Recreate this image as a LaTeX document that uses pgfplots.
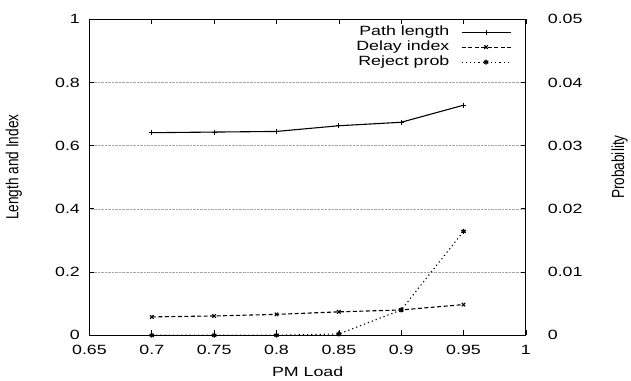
\documentclass[border=0pt]{standalone}
\usepackage{fontspec}
\setmainfont{Liberation Sans}[FakeStretch=1.33]
\newfontfamily\rotfont{Liberation Sans}[FakeStretch=0.78]
\usepackage{pgfplots}
\pgfplotsset{compat=1.18}
\newcommand\hfnt{\fontsize{13.4bp}{15bp}\selectfont}
\newcommand\rfnt{\rotfont\fontsize{17.5bp}{20bp}\selectfont}

\begin{document}
\begin{tikzpicture}
\pgfplotsset{
  common/.style={
    scale only axis, width=437bp, height=316.4bp,
    xmin=0.65, xmax=1,
    scaled x ticks=false, scaled y ticks=false,
    /pgf/number format/assume math mode=true,
    tick label style={font=\hfnt},
    major tick length=5bp,
    tick align=inside,
    axis line style={line width=0.9bp},
    every tick/.style={line width=0.7bp, black},
  }
}
\begin{axis}[common,
  ymin=0, ymax=1,
  xtick={0.65,0.7,0.75,0.8,0.85,0.9,0.95,1},
  xticklabels={0.65,0.7,0.75,0.8,0.85,0.9,0.95,1},
  ytick={0,0.2,0.4,0.6,0.8,1},
  yticklabels={0,0.2,0.4,0.6,0.8,1},
  ytick pos=left, xtick pos=both,
  xticklabel style={yshift=-6.5bp},
  yticklabel style={xshift=-6.1bp},
  ymajorgrids, grid style={densely dotted, gray!70, line width=0.5bp},
  xlabel={PM Load}, ylabel={Length and Index},
  every axis x label/.style={at={(axis description cs:0.5,-0.1163)}, anchor=center, font=\hfnt},
  every axis y label/.style={at={(axis description cs:-0.173,0.532)}, anchor=center, rotate=90, font=\rfnt},
]
\addplot[black, line width=1.1bp, mark=+, mark size=2.5bp] coordinates {
  (0.70,0.641) (0.75,0.643) (0.80,0.645) (0.85,0.663) (0.90,0.674) (0.95,0.728)};
\addplot[black, line width=1.1bp, dash pattern=on 4bp off 2.5bp, mark=x, mark size=2.5bp, mark options={solid}] coordinates {
  (0.70,0.058) (0.75,0.061) (0.80,0.066) (0.85,0.074) (0.90,0.080) (0.95,0.097)};
\end{axis}
\begin{axis}[common,
  ymin=0, ymax=0.05,
  axis x line=none, axis y line*=right,
  ytick={0,0.01,0.02,0.03,0.04,0.05},
  yticklabels={0,0.01,0.02,0.03,0.04,0.05},
  yticklabel style={xshift=18.5bp},
  ylabel={Probability},
  every axis y label/.style={at={(axis description cs:1.2146,0.532)}, anchor=center, rotate=90, font=\rfnt},
  legend style={draw=none, fill=none, at={(axis description cs:0.9666,0.9836)}, anchor=north east,
    inner sep=0pt, column sep=10.7bp, row sep=0pt,
    nodes={inner sep=1bp, text height=10bp, text depth=3bp, font=\hfnt}},
  legend cell align=right, legend plot pos=right,
  legend image code/.code={\draw[mark repeat=2,mark phase=2,#1] plot coordinates {(0bp,0bp) (24.5bp,0bp) (49bp,0bp)};},
]
\addlegendimage{black, line width=1.1bp, mark=+, mark size=2.5bp}
\addlegendentry{Path length}
\addlegendimage{black, line width=1.1bp, dash pattern=on 4bp off 2.5bp, mark=x, mark size=2.5bp, mark options={solid}}
\addlegendentry{Delay index}
\addplot[black, line width=1.1bp, dash pattern=on 1.2bp off 3bp, mark=asterisk, mark size=2.5bp, mark options={solid, line width=1.3bp}] coordinates {
  (0.70,0) (0.75,0) (0.80,0) (0.85,0.0002) (0.90,0.004) (0.95,0.01644)};
\addlegendentry{Reject prob}
\end{axis}
\path ([shift={(-89.6bp,-45.3bp)}]current axis.south west) rectangle ([shift={(104.4bp,19.3bp)}]current axis.north east);
\end{tikzpicture}
\end{document}
